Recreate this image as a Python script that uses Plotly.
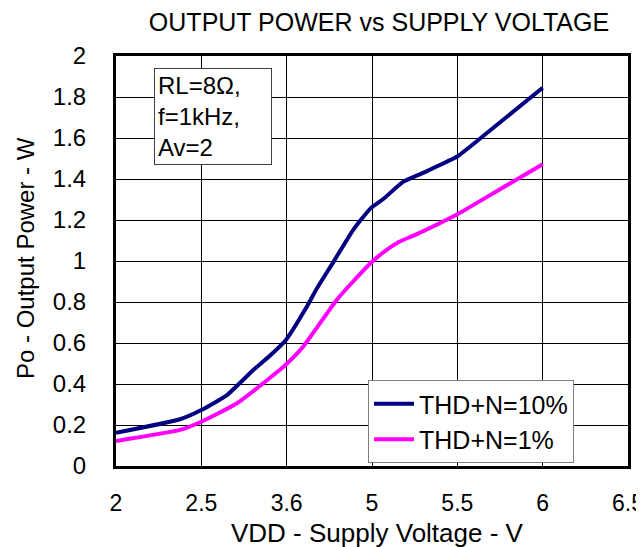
import numpy as np
import plotly.graph_objects as go

# Axis tick labels (equally spaced on the chart)
tick_volts = [2.0, 2.5, 3.6, 5.0, 5.5, 6.0, 6.5]
tick_labels = ["2", "2.5", "3.6", "5", "5.5", "6", "6.5"]
y_ticks = [0, 0.2, 0.4, 0.6, 0.8, 1, 1.2, 1.4, 1.6, 1.8, 2]

# THD+N = 10 %
vdd_10 = [2.0, 2.375, 2.5, 2.83, 3.17, 3.39, 3.59, 3.93, 4.09, 4.37, 4.69, 4.98,
          5.07, 5.18, 5.3, 5.44, 5.5, 5.63, 6.0]
po_10 = [0.162, 0.228, 0.273, 0.346, 0.468, 0.54, 0.615, 0.777, 0.863, 0.997, 1.151, 1.258,
         1.305, 1.385, 1.43, 1.485, 1.51, 1.595, 1.845]

# THD+N = 1 %
vdd_1 = [2.0, 2.375, 2.5, 2.96, 3.51, 3.56, 3.87, 4.42, 4.69, 4.98, 5.07, 5.16, 5.26,
         5.5, 5.75, 6.0]
po_1 = [0.122, 0.176, 0.216, 0.306, 0.468, 0.484, 0.582, 0.81, 0.9, 0.99, 1.045, 1.094, 1.13,
        1.228, 1.35, 1.472]

series_names = ["THD+N=10%", "THD+N=1%"]
series_colors = ["#000080", "#FF00FF"]

def to_pos(v):
    return np.interp(v, tick_volts, list(range(len(tick_volts))))

FONT = "Liberation Sans, Arial, sans-serif"
OFF = 8                       # page offset of the figure inside the browser window
W, H = 644 - OFF, 547 - OFF
PL, PR, PT, PB = 116, 628, 56, 466   # plot area in window pixels
L, T = PL - OFF, PT - OFF
R, B = W - (PR - OFF), H - (PB - OFF)

def px(x):   # window x -> paper fraction
    return (x - PL) / (PR - PL)

def py(y):   # window y -> paper fraction
    return (PB - y) / (PB - PT)

fig = go.Figure()
for vx, yv, name, col, grp in [(vdd_10, po_10, series_names[0], series_colors[0], "a"),
                                (vdd_1, po_1, series_names[1], series_colors[1], "b")]:
    fig.add_trace(go.Scatter(x=to_pos(vx), y=yv, mode="lines", name=name,
                             legendgroup=grp,
                             line=dict(color=col, width=4, shape="spline", smoothing=0.5)))

fig.update_layout(
    width=W, height=H,
    margin=dict(l=L, r=R, t=T, b=B, autoexpand=False),
    paper_bgcolor="white", plot_bgcolor="white",
    font=dict(family=FONT, size=23, color="black"),
    title=dict(text="OUTPUT POWER vs SUPPLY VOLTAGE", xref="container", x=(379 - OFF) / W,
               xanchor="center", y=1 - (22 - OFF) / H, yanchor="middle",
               font=dict(family=FONT, size=25, color="black")),
    showlegend=True,
    legend=dict(x=px(368), y=py(380), xanchor="left", yanchor="top",
                orientation="v",
                bgcolor="white", bordercolor="#808080", borderwidth=1,
                font=dict(family=FONT, size=25, color="black"),
                tracegroupgap=0, itemwidth=40),
)
fig.update_xaxes(range=[0, 6], tickmode="array", tickvals=list(range(len(tick_labels))),
                 ticktext=tick_labels, showgrid=True, gridcolor="black", gridwidth=1,
                 zeroline=False, showline=True, linecolor="black", linewidth=3, mirror=True,
                 ticks="outside", ticklen=14, tickcolor="rgba(0,0,0,0)",
                 ticklabeloverflow="allow",
                 tickfont=dict(size=23), automargin=False)
fig.update_yaxes(range=[0, 2], tickmode="array", tickvals=y_ticks,
                 ticktext=[("%g" % t) for t in y_ticks],
                 showgrid=True, gridcolor="black", gridwidth=1,
                 zeroline=False, showline=True, linecolor="black", linewidth=3, mirror=True,
                 ticks="outside", ticklen=22, tickcolor="rgba(0,0,0,0)",
                 ticklabeloverflow="allow",
                 tickfont=dict(size=24), automargin=False)

# axis titles
fig.add_annotation(xref="paper", yref="paper", x=px(377), y=py(533),
                   text="VDD - Supply Voltage - V", showarrow=False,
                   xanchor="center", yanchor="middle", font=dict(size=26))
fig.add_annotation(xref="paper", yref="paper", x=px(25), y=py(258),
                   text="Po - Output Power - W", showarrow=False, textangle=-90,
                   xanchor="center", yanchor="middle", font=dict(size=24))

# condition box
fig.add_annotation(xref="paper", yref="paper", x=px(154), y=py(68),
                   xanchor="left", yanchor="top", align="left", showarrow=False,
                   text="RL=8Ω,<br>f=1kHz,<br>Av=2", width=110,
                   font=dict(family=FONT, size=24, color="black"),
                   bgcolor="white", bordercolor="#404040", borderwidth=1, borderpad=3)

fig.write_html("out.html")
